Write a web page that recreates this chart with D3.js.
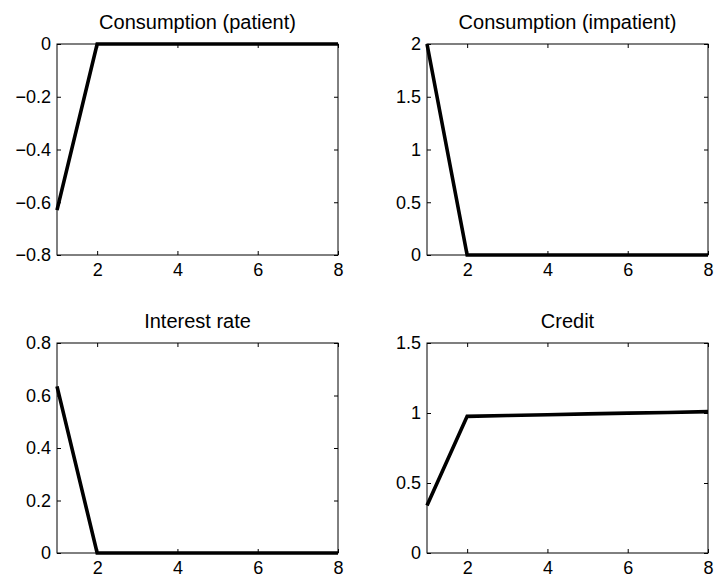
<!DOCTYPE html>
<html>
<head>
    <script type="text/javascript" src="https://cdn.jsdelivr.net/npm/d3@7/dist/d3.min.js"></script>
    <style>
        body { margin: 0; background: white; }
        text { font-family: "Liberation Sans", Arial, sans-serif; fill: black; }
    </style>
</head>
<body>
    <div id="chart"></div>
    <script type="text/javascript">

        // periods on the x axis
        let periods = [1, 2, 3, 4, 5, 6, 7, 8];

        // impulse responses
        let consPatient   = [-0.63, 0, 0, 0, 0, 0, 0, 0];
        let consImpatient = [2.0, 0, 0, 0, 0, 0, 0, 0];
        let interestRate  = [0.635, 0, 0, 0, 0, 0, 0, 0];
        let credit        = [0.34, 0.976, 0.982, 0.988, 0.994, 0.999, 1.004, 1.01];

        let titles = ["Consumption (patient)", "Consumption (impatient)", "Interest rate", "Credit"];
        let series = [consPatient, consImpatient, interestRate, credit];
        let yDomains = [[-0.8, 0], [0, 2], [0, 0.8], [0, 1.5]];
        let yTicks = [
            [-0.8, -0.6, -0.4, -0.2, 0],
            [0, 0.5, 1, 1.5, 2],
            [0, 0.2, 0.4, 0.6, 0.8],
            [0, 0.5, 1, 1.5]
        ];
        let xTicks = [2, 4, 6, 8];

        // panel boxes: [left, right, top, bottom]
        let cols = [[57, 338], [427, 708]];
        let rows = [[44, 255], [343, 553]];
        let tickLen = 4;

        let svg = d3.select("#chart")
        .append("svg")
        .attr("width", 714)
        .attr("height", 580)
        .style("background-color", "white");

        const fmt = function(v){ return String(v).replace("-", "\u2212"); };

        for (let i = 0; i < 4; i++){
            let c = cols[i % 2];
            let r = rows[Math.floor(i / 2)];

            let x = d3.scaleLinear().domain([1, 8]).range([c[0], c[1]]);
            let y = d3.scaleLinear().domain(yDomains[i]).range([r[1], r[0]]);

            let g = svg.append("g");

            // ticks: bottom/left with labels, top/right mirrored, all inward
            g.append("g")
            .attr("transform", `translate(0,${r[1]})`)
            .call(d3.axisBottom(x).tickValues(xTicks).tickSize(-tickLen).tickPadding(8).tickFormat(d3.format("d")))
            .call(function(a){ a.select(".domain").remove(); });

            g.append("g")
            .attr("transform", `translate(0,${r[0]})`)
            .call(d3.axisTop(x).tickValues(xTicks).tickSize(-tickLen).tickFormat(""))
            .call(function(a){ a.select(".domain").remove(); });

            g.append("g")
            .attr("transform", `translate(${c[0]},0)`)
            .call(d3.axisLeft(y).tickValues(yTicks[i]).tickSize(-tickLen).tickPadding(6).tickFormat(fmt))
            .call(function(a){ a.select(".domain").remove(); });

            g.append("g")
            .attr("transform", `translate(${c[1]},0)`)
            .call(d3.axisRight(y).tickValues(yTicks[i]).tickSize(-tickLen).tickFormat(""))
            .call(function(a){ a.select(".domain").remove(); });

            g.selectAll(".tick text")
            .style("font-family", "Liberation Sans, Arial, sans-serif")
            .style("font-size", "18px")
            .attr("fill", "black");
            g.selectAll(".tick line").attr("stroke", "black");

            // box
            g.append("rect")
            .attr("x", c[0])
            .attr("y", r[0])
            .attr("width", c[1] - c[0])
            .attr("height", r[1] - r[0])
            .style("fill", "none")
            .style("stroke", "black")
            .style("stroke-width", 1);

            // response line
            let line = d3.line()
            .x(function(d, j){ return x(periods[j]); })
            .y(function(d){ return y(d); });

            g.append("path")
            .datum(series[i])
            .attr("d", line)
            .style("fill", "none")
            .style("stroke", "black")
            .style("stroke-width", 3.6);

            g.append("text")
            .attr("x", (c[0] + c[1]) / 2)
            .attr("y", r[0] - 15)
            .attr("text-anchor", "middle")
            .style("font-size", "20px")
            .text(titles[i]);
        }

    </script>
</body>
</html>
